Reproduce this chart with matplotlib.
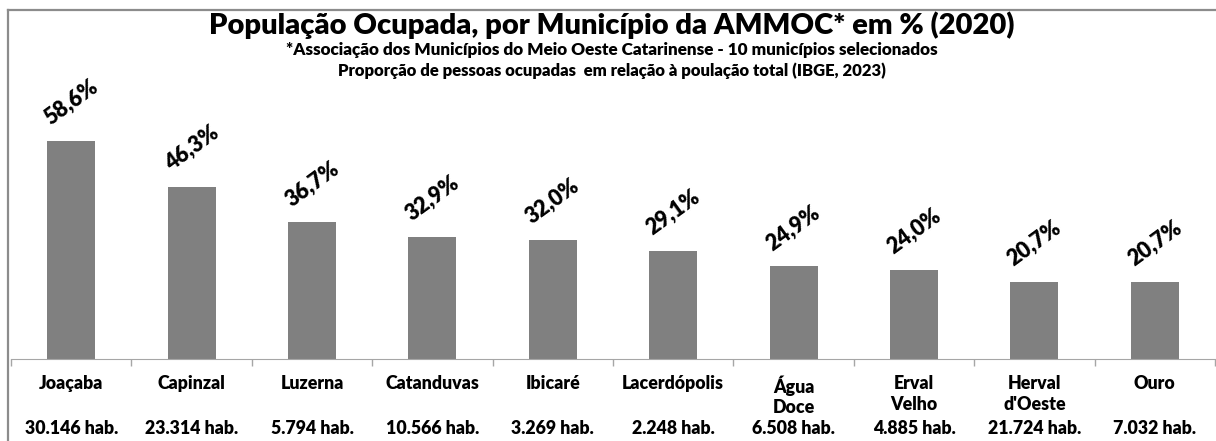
import matplotlib
matplotlib.use("Agg")
from matplotlib import pyplot as plt
from matplotlib.transforms import blended_transform_factory
from matplotlib.lines import Line2D

# dados do grafico
municipios = ["Joaçaba", "Capinzal", "Luzerna", "Catanduvas", "Ibicaré",
              "Lacerdópolis", "Água\nDoce", "Erval\nVelho", "Herval\nd'Oeste", "Ouro"]
ocupada_pct = [58.6, 46.3, 36.7, 32.9, 32.0, 29.1, 24.9, 24.0, 20.7, 20.7]
habitantes = ["30.146 hab.", "23.314 hab.", "5.794 hab.", "10.566 hab.", "3.269 hab.",
              "2.248 hab.", "6.508 hab.", "4.885 hab.", "21.724 hab.", "7.032 hab."]

titulo = "População Ocupada, por Município da AMMOC* em % (2020)"
sub1 = "*Associação dos Municípios do Meio Oeste Catarinense - 10 municípios selecionados"
sub2 = "Proporção de pessoas ocupadas  em relação à poulação total (IBGE, 2023)"

plt.rcParams['font.family'] = ['Lato', 'DejaVu Sans']

W, H = 1216, 441
fig = plt.figure(figsize=(W / 100, H / 100), dpi=100)

def fx(px):
    return px / W

def fy(px):
    return 1 - px / H

# area do grafico: base em y=359, topo em y=90 (pixels)
ax = fig.add_axes([fx(11), fy(359), fx(1215 - 11), (359 - 90) / H])
n = len(municipios)
ax.bar(range(n), ocupada_pct, width=0.4, color="#808080")
ax.set_xlim(-0.5, n - 0.5)
ax.set_ylim(0, 269 / 3.72)
ax.set_yticks([])
ax.set_xticks([i - 0.5 for i in range(n + 1)])
ax.set_xticklabels([])
ax.tick_params(axis="x", direction="out", length=5, color="#a6a6a6", width=1)
for s in ["top", "right", "left"]:
    ax.spines[s].set_visible(False)
ax.spines["bottom"].set_color("#a6a6a6")
ax.patch.set_alpha(0)

for i, v in enumerate(ocupada_pct):
    ax.text(i, v + 10.3, f"{v:.1f}%".replace(".", ","), rotation=36,
            ha="center", va="center", rotation_mode="anchor",
            fontsize=15.5, fontweight="heavy")

tr = blended_transform_factory(ax.transData, fig.transFigure)
for i, (m, h) in enumerate(zip(municipios, habitantes)):
    ax.text(i, fy(375), m, transform=tr, ha="center", va="top",
            fontsize=12.8, fontweight="heavy", linespacing=1.25, clip_on=False)
    ax.text(i, fy(428), h, transform=tr, ha="center", va="center",
            fontsize=12.8, fontweight="heavy", clip_on=False)

fig.text(0.503, fy(25), titulo, ha="center", va="center", fontsize=21, fontweight="heavy")
fig.text(0.503, fy(50), sub1, ha="center", va="center", fontsize=12.3, fontweight="heavy")
fig.text(0.503, fy(71), sub2, ha="center", va="center", fontsize=12, fontweight="heavy")

# moldura cinza
fig.add_artist(Line2D([fx(8), 1], [fy(10), fy(10)], color="#8c8c8c", lw=1.6))
fig.add_artist(Line2D([fx(8), fx(8)], [fy(10), 0], color="#8c8c8c", lw=1.6))

fig.savefig("out.png", dpi=100)
